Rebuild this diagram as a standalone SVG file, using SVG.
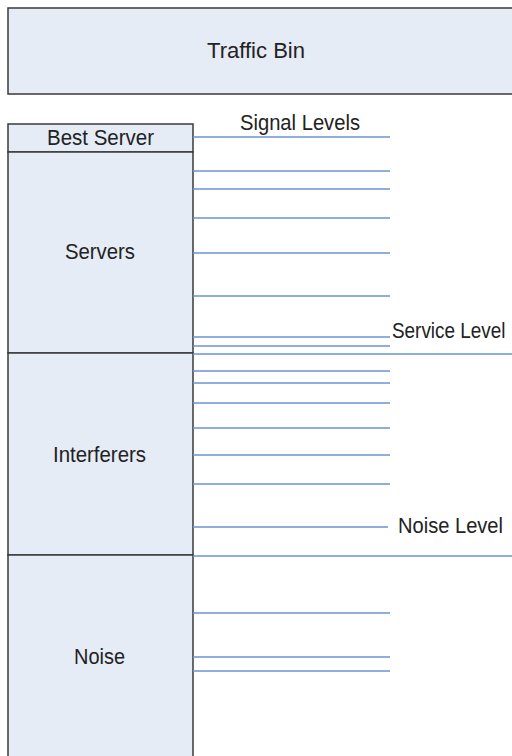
<svg xmlns="http://www.w3.org/2000/svg" width="512" height="756" viewBox="0 0 512 756">
<style>
.box{fill:#e6ecf6;stroke:#3a3a3a;stroke-width:1.5}
.t{font-family:"Liberation Sans",Arial,sans-serif;font-size:22px;fill:#222}
.c{text-anchor:middle}
.lv{stroke:#6a93d2;stroke-width:1.6;fill:none}
</style>
<rect width="512" height="756" fill="#ffffff"/>
<g id="traffic-bin">
<rect class="box" x="8" y="8" width="510" height="86"/>
<text class="t c" x="256" y="58" textLength="98" lengthAdjust="spacingAndGlyphs">Traffic Bin</text>
</g>
<g id="best-server">
<rect class="box" x="8" y="124" width="185" height="28"/>
<text class="t c" x="100.5" y="145" textLength="107" lengthAdjust="spacingAndGlyphs">Best Server</text>
</g>
<g id="servers">
<rect class="box" x="8" y="152" width="185" height="201"/>
<text class="t c" x="100" y="259" textLength="70" lengthAdjust="spacingAndGlyphs">Servers</text>
</g>
<g id="interferers">
<rect class="box" x="8" y="353" width="185" height="202"/>
<text class="t c" x="99.5" y="462" textLength="93" lengthAdjust="spacingAndGlyphs">Interferers</text>
</g>
<g id="noise">
<rect class="box" x="8" y="555" width="185" height="215"/>
<text class="t c" x="99.5" y="664" textLength="51" lengthAdjust="spacingAndGlyphs">Noise</text>
</g>
<g id="connectors">
<line class="lv" x1="193" y1="137" x2="390" y2="137"/>
<line class="lv" x1="193" y1="171" x2="390" y2="171"/>
<line class="lv" x1="193" y1="189" x2="390" y2="189"/>
<line class="lv" x1="193" y1="218" x2="390" y2="218"/>
<line class="lv" x1="193" y1="253" x2="390" y2="253"/>
<line class="lv" x1="193" y1="296" x2="390" y2="296"/>
<line class="lv" x1="193" y1="337" x2="390" y2="337"/>
<line class="lv" x1="193" y1="346" x2="390" y2="346"/>
<line class="lv" x1="193" y1="354" x2="512" y2="354"/>
<line class="lv" x1="193" y1="371" x2="390" y2="371"/>
<line class="lv" x1="193" y1="383" x2="390" y2="383"/>
<line class="lv" x1="193" y1="403" x2="390" y2="403"/>
<line class="lv" x1="193" y1="428" x2="390" y2="428"/>
<line class="lv" x1="193" y1="455" x2="390" y2="455"/>
<line class="lv" x1="193" y1="484" x2="390" y2="484"/>
<line class="lv" x1="193" y1="527" x2="388" y2="527"/>
<line class="lv" x1="193" y1="556" x2="512" y2="556"/>
<line class="lv" x1="193" y1="613" x2="390" y2="613"/>
<line class="lv" x1="193" y1="657" x2="390" y2="657"/>
<line class="lv" x1="193" y1="671" x2="390" y2="671"/>
</g>
<g id="labels">
<text class="t" x="240" y="130" textLength="120" lengthAdjust="spacingAndGlyphs">Signal Levels</text>
<text class="t" transform="translate(392,338) scale(0.86,1)" x="0" y="0">Service Level</text>
<text class="t" x="398" y="533" textLength="105" lengthAdjust="spacingAndGlyphs">Noise Level</text>
</g>
</svg>
